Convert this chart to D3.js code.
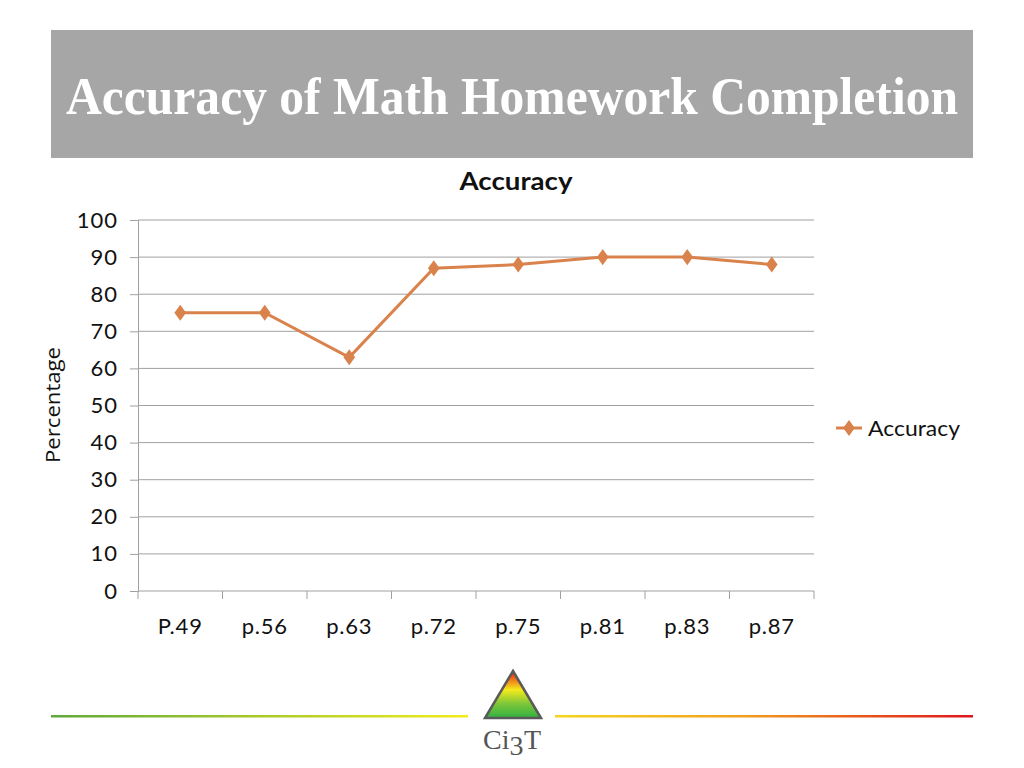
<!DOCTYPE html>
<html><head><meta charset="utf-8">
<script src="https://cdn.jsdelivr.net/npm/d3@7"></script>
<style>body{margin:0;background:#fff}svg{display:block}</style>
</head><body>
<svg id="c" width="1024" height="768"></svg>
<script>
const categories = ["P.49","p.56","p.63","p.72","p.75","p.81","p.83","p.87"];
const accuracy = [75, 75, 63, 87, 88, 90, 90, 88];
const yTicks = [0,10,20,30,40,50,60,70,80,90,100];
const seriesName = "Accuracy";

const svg = d3.select("#c");
const m = {left:138, right:814, top:220, bottom:591};
const labFont = "Lato, sans-serif";

// banner
svg.append("rect").attr("x",51).attr("y",30).attr("width",922).attr("height",128).attr("fill","#a6a6a6");
svg.append("text").attr("x",66).attr("y",114)
  .attr("textLength",892).attr("lengthAdjust","spacingAndGlyphs")
  .attr("font-family","Liberation Serif, serif").attr("font-weight","bold").attr("font-size",52)
  .attr("fill","#fff").text("Accuracy of Math Homework Completion");

// chart title
svg.append("text").attr("x",516).attr("y",190).attr("text-anchor","middle")
  .attr("textLength",113).attr("lengthAdjust","spacingAndGlyphs")
  .attr("font-family",labFont).attr("font-weight","bold").attr("font-size",25)
  .attr("fill","#111").text("Accuracy");

const x = d3.scaleBand().domain(categories).range([m.left, m.right]);
const y = d3.scaleLinear().domain([0,100]).range([m.bottom, m.top]);

// gridlines
svg.append("g").selectAll("line").data(yTicks.filter(d=>d>0)).join("line")
  .attr("x1",m.left).attr("x2",m.right).attr("y1",d=>y(d)).attr("y2",d=>y(d))
  .attr("stroke","#a0a0a0").attr("stroke-width",1);

// y axis
const ya = svg.append("g").attr("transform",`translate(${m.left},0)`)
  .call(d3.axisLeft(y).tickValues(yTicks).tickSize(8).tickPadding(12));
ya.select(".domain").attr("stroke","#a0a0a0");
ya.selectAll(".tick line").attr("stroke","#a0a0a0");
ya.selectAll("text").attr("font-family",labFont).attr("font-size",22)
  .attr("letter-spacing","1px").attr("fill","#111");

// x axis
const xa = svg.append("g").attr("transform",`translate(0,${m.bottom})`)
  .call(d3.axisBottom(x).tickSize(0).tickPadding(27));
xa.select(".domain").attr("stroke","#a0a0a0").attr("d",`M${m.left},0H${m.right}`);
xa.selectAll("text").attr("font-family",labFont).attr("font-size",22)
  .attr("letter-spacing","0.8px").attr("fill","#111");
const bounds = categories.map(c=>x(c)).concat([m.right]);
svg.append("g").selectAll("line").data(bounds).join("line")
  .attr("x1",d=>d).attr("x2",d=>d).attr("y1",m.bottom).attr("y2",m.bottom+8)
  .attr("stroke","#a0a0a0");

// axis title
svg.append("text").attr("transform","translate(60,405) rotate(-90)").attr("text-anchor","middle")
  .attr("textLength",116).attr("lengthAdjust","spacingAndGlyphs")
  .attr("font-family","Open Sans, sans-serif").attr("font-size",20).attr("fill","#111").text("Percentage");

// line
const col = "#d9824b";
const cx = d => x(d) + x.bandwidth()/2;
svg.append("path").datum(accuracy.map((v,i)=>[categories[i],v]))
  .attr("d", d3.line().x(d=>cx(d[0])).y(d=>y(d[1])))
  .attr("fill","none").attr("stroke",col).attr("stroke-width",3);
const diamond = d3.symbol().type(d3.symbolDiamond).size(75);
svg.append("g").selectAll("path").data(accuracy).join("path")
  .attr("d",diamond).attr("fill",col)
  .attr("transform",(d,i)=>`translate(${cx(categories[i])},${y(d)}) scale(1.25,1)`);

// legend
svg.append("line").attr("x1",836).attr("x2",862).attr("y1",428).attr("y2",428).attr("stroke",col).attr("stroke-width",3);
svg.append("path").attr("d",diamond).attr("fill",col).attr("transform","translate(849,428) scale(1.25,1)");
svg.append("text").attr("x",868).attr("y",436).attr("font-family",labFont).attr("font-size",22)
  .attr("textLength",92).attr("lengthAdjust","spacingAndGlyphs")
  .attr("fill","#111").text(seriesName);

// footer lines
const defs = svg.append("defs");
const g1 = defs.append("linearGradient").attr("id","gl");
g1.append("stop").attr("offset","0%").attr("stop-color","#5fa83c");
g1.append("stop").attr("offset","100%").attr("stop-color","#f2ec1a");
const g2 = defs.append("linearGradient").attr("id","gr");
g2.append("stop").attr("offset","0%").attr("stop-color","#f6d51c");
g2.append("stop").attr("offset","45%").attr("stop-color","#f0a020");
g2.append("stop").attr("offset","100%").attr("stop-color","#e0141c");
svg.append("rect").attr("x",51).attr("y",715).attr("width",417).attr("height",2.5).attr("fill","url(#gl)");
svg.append("rect").attr("x",555).attr("y",715).attr("width",418).attr("height",2.5).attr("fill","url(#gr)");

// logo
const g3 = defs.append("linearGradient").attr("id","gt").attr("x1",0).attr("y1",0).attr("x2",0).attr("y2",1);
g3.append("stop").attr("offset","0%").attr("stop-color","#e41b1b");
g3.append("stop").attr("offset","22%").attr("stop-color","#f08a1a");
g3.append("stop").attr("offset","40%").attr("stop-color","#f4ea1c");
g3.append("stop").attr("offset","70%").attr("stop-color","#7cc63a");
g3.append("stop").attr("offset","100%").attr("stop-color","#2fb040");
svg.append("path").attr("d","M513,671 L541,718 L485,718 Z").attr("fill","url(#gt)")
  .attr("stroke","#5a5a5a").attr("stroke-width",2.5).attr("stroke-linejoin","miter");
const logoParts = [["Ci",483,749],["3",509.5,755],["T",524,749]];
svg.append("g").selectAll("text").data(logoParts).join("text")
  .attr("x",d=>d[1]).attr("y",d=>d[2])
  .attr("font-family","Liberation Serif, serif").attr("font-size",28).attr("fill","#555")
  .text(d=>d[0]);
</script>
</body></html>
